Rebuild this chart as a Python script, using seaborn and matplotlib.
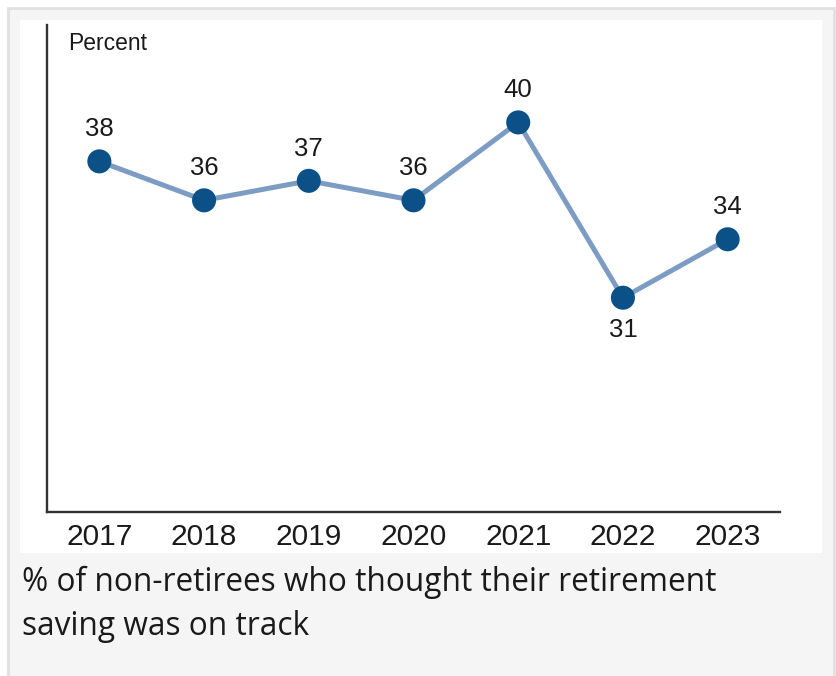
import matplotlib
matplotlib.use("Agg")
import matplotlib.pyplot as plt
import seaborn as sns
import pandas as pd
from matplotlib.patches import Rectangle

years = [2017, 2018, 2019, 2020, 2021, 2022, 2023]
on_track_pct = [38, 36, 37, 36, 40, 31, 34]
label_below = [False, False, False, False, False, True, False]
y_label = "Percent"
caption_lines = ["% of non-retirees who thought their retirement", "saving was on track"]

df = pd.DataFrame({"year": years, "pct": on_track_pct})

LINE_COLOR = "#7c9cc4"
DOT_COLOR = "#0b5188"
AXIS_FONT = ["Liberation Sans", "DejaVu Sans"]
CAPTION_FONT = ["Open Sans", "DejaVu Sans"]

sns.set_theme(style="white")
plt.rcParams["font.family"] = AXIS_FONT

W, H = 836, 676
fig = plt.figure(figsize=(W / 100, H / 100), dpi=100, facecolor="white")

def px(x0, y0, x1, y1):
    # pixel box (top-left origin) -> figure fraction rect
    return (x0 / W, 1 - y1 / H, (x1 - x0) / W, (y1 - y0) / H)

# outer panel and white chart box (behind the axes)
l, b, w, h = px(8, 8, 834, 690)
fig.patches.append(Rectangle((l, b), w, h, transform=fig.transFigure,
                             facecolor="#f5f5f5", edgecolor="#e0e0e0", linewidth=2.0, zorder=-10))
l, b, w, h = px(20, 20, 822, 553)
fig.patches.append(Rectangle((l, b), w, h, transform=fig.transFigure,
                             facecolor="white", edgecolor="none", zorder=-9))

ax = fig.add_axes(px(47, 25, 780, 512))
ax.set_facecolor("none")
ax.set_zorder(1)

sns.lineplot(data=df, x="year", y="pct", color=LINE_COLOR, linewidth=3.6, ax=ax, zorder=2)
sns.scatterplot(data=df, x="year", y="pct", color=DOT_COLOR, s=300, edgecolor="none", ax=ax, zorder=3)

for x, y, below in zip(years, on_track_pct, label_below):
    ax.annotate(str(y), (x, y), xytext=(0, -23 if below else 23), textcoords="offset points",
                ha="center", va="center", fontsize=18.5, color="#1a1a1a")

ax.set_xlim(2016.5, 2023.5)
ax.set_ylim(20, 45)
ax.set_xticks(years)
ax.set_xticklabels([str(y) for y in years])
ax.set_yticks([])
ax.set_xlabel("")
ax.set_ylabel("")
ax.tick_params(axis="x", length=0, pad=8, labelsize=21.5, labelcolor="#1a1a1a")

for side in ["top", "right"]:
    ax.spines[side].set_visible(False)
for side in ["left", "bottom"]:
    ax.spines[side].set_color("#333333")
    ax.spines[side].set_linewidth(1.7)

fig.text(68 / W, 1 - 43 / H, y_label, ha="left", va="center", fontsize=16.5, color="#1a1a1a")

fig.text(22 / W, 1 - 591 / H, caption_lines[0], ha="left", va="baseline",
         fontsize=22.8, color="#1a1a1a", family=CAPTION_FONT)
fig.text(22 / W, 1 - 635 / H, caption_lines[1], ha="left", va="baseline",
         fontsize=22.8, color="#1a1a1a", family=CAPTION_FONT)

fig.savefig("out.png", dpi=100, facecolor="white")
